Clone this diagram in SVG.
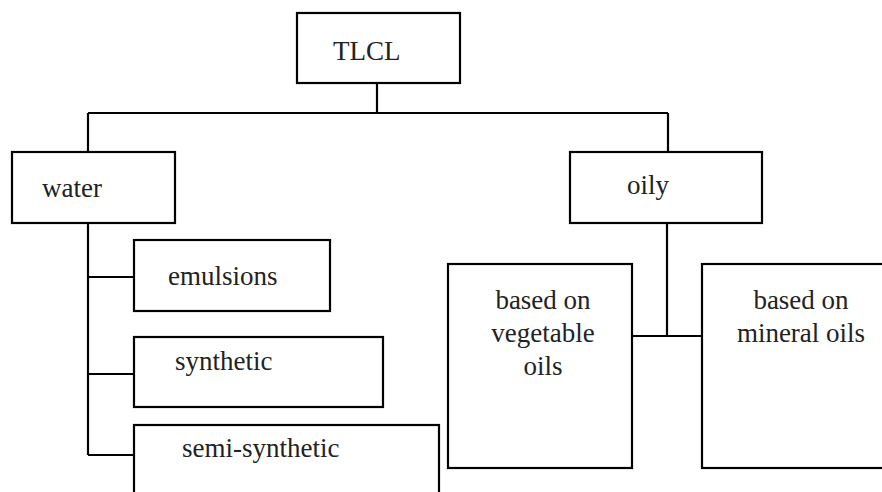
<svg xmlns="http://www.w3.org/2000/svg" width="882" height="492" viewBox="0 0 882 492">
<style>
.box{fill:#fff;stroke:#000;stroke-width:2.2}
.ln{fill:none;stroke:#000;stroke-width:2.2}
text{font-family:'Liberation Serif','Times New Roman',serif;font-size:27px;fill:#222}
.c{text-anchor:middle}
</style>
<rect width="882" height="492" fill="#fff"/>
<g id="connectors">
<path class="ln" d="M377 83V113M88 113H668M88 113V152M668 113V152"/>
<path class="ln" d="M88 223V455M88 277H134M88 374H134M88 455H134"/>
<path class="ln" d="M667 223V336M632 336H702"/>
</g>
<g id="tlcl"><rect class="box" x="297" y="13" width="163" height="70"/><text x="333" y="60">TLCL</text></g>
<g id="water"><rect class="box" x="12" y="152" width="163" height="71"/><text x="42" y="197">water</text></g>
<g id="oily"><rect class="box" x="570" y="152" width="192" height="71"/><text x="627" y="194">oily</text></g>
<g id="emulsions"><rect class="box" x="134" y="240" width="196" height="71"/><text x="168" y="285">emulsions</text></g>
<g id="synthetic"><rect class="box" x="134" y="337" width="249" height="70"/><text x="175" y="370">synthetic</text></g>
<g id="semi-synthetic"><rect class="box" x="134" y="425" width="305" height="100"/><text x="182" y="457">semi-synthetic</text></g>
<g id="vegetable"><rect class="box" x="448" y="264" width="184" height="204"/><text class="c" x="543" y="309">based on</text><text class="c" x="543" y="342">vegetable</text><text class="c" x="543" y="375">oils</text></g>
<g id="mineral"><rect class="box" x="702" y="264" width="200" height="204"/><text class="c" x="801" y="309">based on</text><text class="c" x="801" y="342">mineral oils</text></g>
</svg>
